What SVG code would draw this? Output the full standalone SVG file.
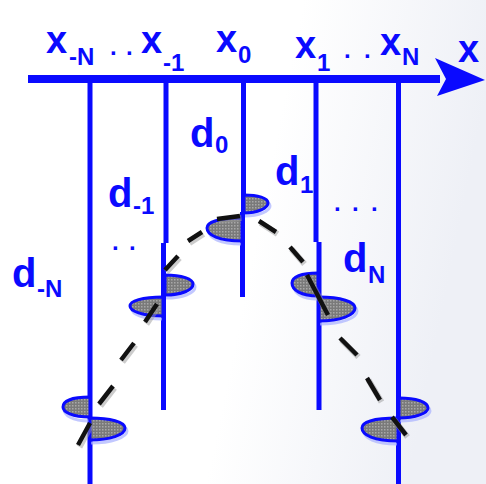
<svg xmlns="http://www.w3.org/2000/svg" width="486" height="484" viewBox="0 0 486 484">
<defs>
<linearGradient id="bg" x1="0" y1="0" x2="1" y2="0.2">
<stop offset="0" stop-color="#ffffff"/>
<stop offset="0.6" stop-color="#ffffff"/>
<stop offset="1" stop-color="#eef0f6"/>
</linearGradient>
<pattern id="dots" width="3" height="3" patternUnits="userSpaceOnUse">
<rect width="3" height="3" fill="#7a7a7a"/>
<rect width="1.5" height="1.5" fill="#a8a8a8"/>
</pattern>
<style>
.lab{font-family:"Liberation Sans",Arial,sans-serif;font-weight:bold;fill:#0a0aff;font-size:38px}
.sub{font-size:24px}
.dlab{font-size:40px}
.vl{stroke:#0a0aff;stroke-width:5;fill:none}
.flag{fill:url(#dots);stroke:#0a0aff;stroke-width:3;stroke-linejoin:round}
.flagsh{fill:none;stroke:#a8b0ff;stroke-width:3;opacity:0.7}
.dash{stroke:#111;stroke-width:4.5;fill:none;stroke-linecap:butt}
.dashsh{stroke:#999;stroke-width:6;fill:none;opacity:0.5}
</style>
</defs>
<rect width="486" height="484" fill="url(#bg)"/>

<g id="axis">
<rect x="28" y="75" width="412" height="8" fill="#0a0aff"/>
<polygon points="435,58 485,80 437,96 446,79" fill="#0a0aff"/>
<text class="lab" x="458" y="62">x</text>
</g>

<g id="labels-top">
<text class="lab" x="46" y="53">x<tspan class="sub" x="69" y="65">-N</tspan></text>
<text class="lab sub" x="110" y="55">. <tspan x="126">.</tspan></text>
<text class="lab" x="141" y="53">x<tspan class="sub" x="163" y="71">-1</tspan></text>
<text class="lab" x="216" y="52">x<tspan class="sub" x="238" y="63">0</tspan></text>
<text class="lab" x="295" y="58">x<tspan class="sub" x="317" y="71">1</tspan></text>
<text class="lab sub" x="344" y="58">. <tspan x="364">.</tspan></text>
<text class="lab" x="380" y="55">x<tspan class="sub" x="402" y="65">N</tspan></text>
</g>

<g id="node-xmN">
<path class="vl" d="M90,83 V484"/>
<path class="flagsh" d="M89,400 C72,400 64,404 64,409 C64,415 72,421 89,421"/>
<path class="flagsh" d="M91,421 C112,421 127,425 127,431 C127,437 112,443 91,443"/>
<path class="flag" d="M90,397 C72,397 63,401 63,407 C63,412 72,417 90,417 Z"/>
<path class="flag" d="M90,418 C110,418 125,422 125,428 C125,435 110,440 90,440 Z"/>
<text class="lab dlab" x="12" y="287">d<tspan class="sub" x="37" y="297">-N</tspan></text>
</g>

<g id="node-xm1">
<path class="vl" d="M166,83 V243 M163.5,243 V410"/>
<path class="flagsh" d="M166,278 C183,278 195,282 195,287 C195,293 183,298 166,298"/>
<path class="flagsh" d="M162,300 C142,300 132,304 132,309 C132,314 142,319 162,319"/>
<path class="flag" d="M165,275 C182,275 193,279 193,284 C193,290 182,295 165,295 Z"/>
<path class="flag" d="M163,297 C142,297 130,301 130,306 C130,311 142,316 163,316 Z"/>
<text class="lab dlab" x="108" y="207">d<tspan class="sub" x="133" y="214">-1</tspan></text>
<text class="lab sub" x="112" y="250">. <tspan x="129">.</tspan></text>
</g>

<g id="node-x0">
<path class="vl" d="M243.5,83 V212 M242.5,212 V297"/>
<path class="flagsh" d="M245,198 C259,198 270,201 270,206 C270,211 259,216 245,216"/>
<path class="flagsh" d="M241,221 C220,221 209,225 209,231 C209,238 220,244 241,244"/>
<path class="flag" d="M244,195 C258,195 268,198 268,203 C268,208 258,213 244,213 Z"/>
<path class="flag" d="M242,218 C219,218 207,222 207,228 C207,235 219,241 242,241 Z"/>
<text class="lab dlab" x="190" y="147">d<tspan class="sub" x="215" y="153">0</tspan></text>
</g>

<g id="node-x1">
<path class="vl" d="M316,83 V242 M319,242 V410"/>
<path class="flagsh" d="M317,276 C302,276 294,280 294,286 C294,293 302,299 317,299"/>
<path class="flagsh" d="M320,300 C342,300 357,305 357,311 C357,318 342,324 320,324"/>
<path class="flag" d="M318,273 C301,273 292,277 292,283 C292,290 301,296 318,296 Z"/>
<path class="flag" d="M319,297 C341,297 355,302 355,308 C355,315 341,321 319,321 Z"/>
<text class="lab dlab" x="275" y="185">d<tspan class="sub" x="300" y="193">1</tspan></text>
<text class="lab sub" x="334" y="211">.<tspan x="352">.</tspan><tspan x="371">.</tspan></text>
</g>

<g id="node-xN">
<path class="vl" d="M398.5,83 V484"/>
<path class="flagsh" d="M400,401 C417,401 430,405 430,411 C430,416 417,421 400,421"/>
<path class="flagsh" d="M397,421 C375,421 364,425 364,431 C364,438 375,444 397,444"/>
<path class="flag" d="M399,398 C416,398 428,402 428,408 C428,413 416,418 399,418 Z"/>
<path class="flag" d="M398,418 C374,418 362,422 362,428 C362,435 374,441 398,441 Z"/>
<text class="lab dlab" x="343" y="272">d<tspan class="sub" x="368" y="283">N</tspan></text>
</g>

<g id="connectors">
<path class="dashsh" transform="translate(1.5,2)" d="M78,445 L90,423 M99,404 L113,386 M121,360 L134,343 M145,322 L157,304 M165,270 L178,256 M188,241 L202,232 M217,219 L240,216 M259,221 L276,232 M290,247 L303,262 M307,275 L328,315 M340,338 L357,355 M367,378 L380,400 M392,417 L406,435"/>
<path class="dash" d="M78,445 L90,423 M99,404 L113,386 M121,360 L134,343 M145,322 L157,304 M165,270 L178,256 M188,241 L202,232 M217,219 L240,216 M259,221 L276,232 M290,247 L303,262 M307,275 L328,315 M340,338 L357,355 M367,378 L380,400 M392,417 L406,435"/>
</g>
</svg>
